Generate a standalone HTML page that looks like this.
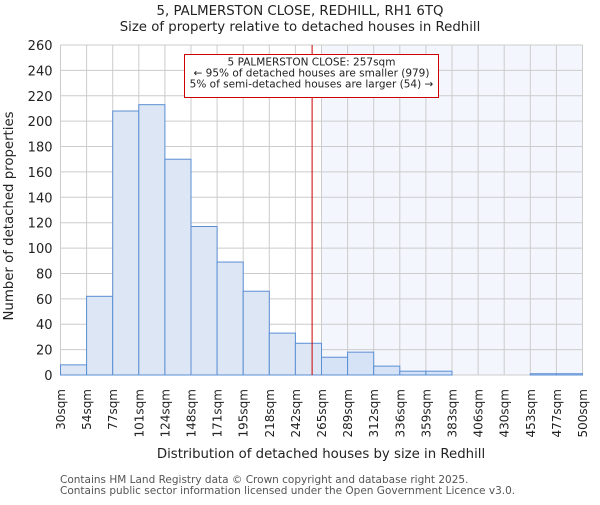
<!DOCTYPE html>
<html><head><meta charset="utf-8"><style>
body{margin:0;background:#fff}
svg{font-family:"DejaVu Sans","Liberation Sans",sans-serif}
</style></head><body>
<svg id="c" width="600" height="500" viewBox="0 0 600 500">
<text x="300" y="15" text-anchor="middle" font-size="13.3" fill="#222">5, PALMERSTON CLOSE, REDHILL, RH1 6TQ</text>
<text x="300" y="31" text-anchor="middle" font-size="13.3" fill="#222">Size of property relative to detached houses in Redhill</text>
<g id="grid"></g><g id="bars"></g><g id="axes"></g>
<text x="321" y="458" text-anchor="middle" font-size="13.3" fill="#222">Distribution of detached houses by size in Redhill</text>
<text transform="translate(13,216) rotate(-90)" text-anchor="middle" font-size="13.3" fill="#222">Number of detached properties</text>
<text x="60" y="483" font-size="10.5" fill="#555">Contains HM Land Registry data © Crown copyright and database right 2025.</text>
<text x="60" y="494" font-size="10.5" fill="#555">Contains public sector information licensed under the Open Government Licence v3.0.</text>
</svg>
<script>
const labels=["30sqm","54sqm","77sqm","101sqm","124sqm","148sqm","171sqm","195sqm","218sqm","242sqm","265sqm","289sqm","312sqm","336sqm","359sqm","383sqm","406sqm","430sqm","453sqm","477sqm","500sqm"];
const counts=[8,62,208,213,170,117,89,66,33,25,14,18,7,3,3,0,0,0,1,1];
const yTicks=[0,20,40,60,80,100,120,140,160,180,200,220,240,260];
const propertyIndex=9.64;
const highlightFrom=10;
const annotation=["5 PALMERSTON CLOSE: 257sqm","← 95% of detached houses are smaller (979)","5% of semi-detached houses are larger (54) →"];
const L=60.5,R=582.5,T=45,B=375,yMax=260;
const bw=(R-L)/counts.length;
const xs=i=>L+i*bw, ys=v=>B-v/yMax*(B-T);
const NS="http://www.w3.org/2000/svg";
function mk(tag,at,parent){const e=document.createElementNS(NS,tag);for(const k in at)e.setAttribute(k,at[k]);parent.appendChild(e);return e;}
const grid=document.getElementById('grid'),bars=document.getElementById('bars'),axes=document.getElementById('axes');
const hl=mk('rect',{x:xs(highlightFrom),y:T,width:R-xs(highlightFrom),height:B-T,fill:'#f3f6fd'},grid);


yTicks.forEach(v=>{
 const g=mk('line',{x1:L,x2:R,y1:ys(v),y2:ys(v),stroke:'#ccc','stroke-width':1},grid);
 
 
 const t=mk('text',{x:L-8,y:ys(v)+5,'text-anchor':'end','font-size':13,fill:'#222'},axes);
 t.textContent=v;
 
 
});
labels.forEach((lab,i)=>{
 const x=xs(i);
 const g=mk('line',{x1:x,x2:x,y1:T,y2:B,stroke:'#ccc','stroke-width':1},grid);
 
 
 const t=mk('text',{transform:`translate(${x+4.5},389) rotate(-90)`,'text-anchor':'end','font-size':12,fill:'#222'},axes);
 t.textContent=lab;
 
 
});
counts.forEach((v,i)=>{
 if(v<=0)return;
 const r=mk('rect',{x:xs(i),y:ys(v),width:bw,height:B-ys(v),fill:i>=highlightFrom?'#d6e2f5':'#dce6f4',stroke:'#5b8fd4','stroke-width':1},bars);
 
 
});
const px=xs(propertyIndex);
const pl=mk('line',{x1:px,x2:px,y1:T,y2:B,stroke:'#c00','stroke-width':1},axes);


const box=mk('rect',{x:184.5,y:54.5,width:254,height:43,fill:'#fff',stroke:'#c00','stroke-width':1},axes);


annotation.forEach((s,i)=>{
 const t=mk('text',{x:311.5,y:65.5+i*11,'text-anchor':'middle','font-size':10.5,fill:'#222'},axes);
 t.textContent=s;
 
 
});
</script>
</body></html>
